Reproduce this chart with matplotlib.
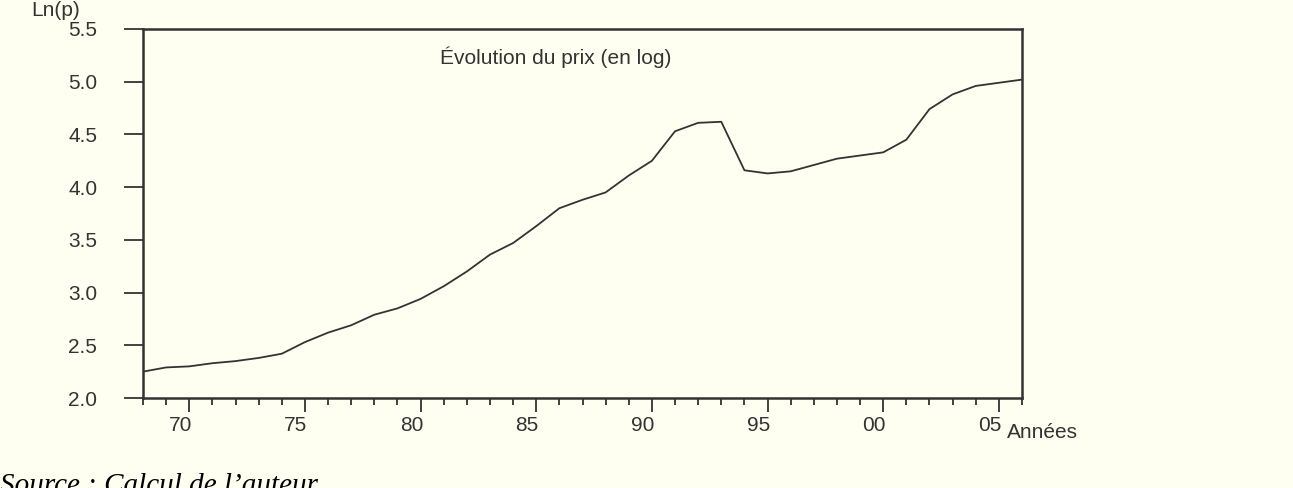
import matplotlib
matplotlib.use('Agg')
import matplotlib.pyplot as plt
import matplotlib.transforms as mtransforms
from matplotlib.ticker import MultipleLocator

# années 1968-2006 et log du prix
annees = list(range(1968, 2007))
ln_prix = [2.25, 2.29, 2.30, 2.33, 2.35, 2.38, 2.42, 2.53, 2.62, 2.69,
           2.79, 2.85, 2.94, 3.06, 3.20, 3.36, 3.47, 3.63, 3.80, 3.88,
           3.95, 4.11, 4.25, 4.53, 4.61, 4.62, 4.16, 4.13, 4.15, 4.21,
           4.27, 4.30, 4.33, 4.45, 4.74, 4.88, 4.96, 4.99, 5.02]
xticks = [1970, 1975, 1980, 1985, 1990, 1995, 2000, 2005]
xlabels = ['70', '75', '80', '85', '90', '95', '00', '05']
yticks = [2.0, 2.5, 3.0, 3.5, 4.0, 4.5, 5.0, 5.5]

fond = '#fefff0'
gris = '#333333'
taille = 15
plt.rcParams['font.family'] = ['Liberation Sans', 'DejaVu Sans']

fig = plt.figure(figsize=(12.93, 4.88), dpi=100, facecolor=fond)
ax = fig.add_axes([143 / 1293, 1 - 398 / 488, (1022 - 143) / 1293, (398 - 29) / 488])
ax.set_facecolor(fond)

ax.plot(annees, ln_prix, color=gris, lw=1.3)

ax.set_xlim(1968, 2006)
ax.set_ylim(2.0, 5.5)
ax.set_xticks(xticks)
ax.set_xticklabels(xlabels)
ax.xaxis.set_minor_locator(MultipleLocator(1))
ax.set_yticks(yticks)
ax.set_yticklabels(['%.1f' % v for v in yticks])

for s in ax.spines.values():
    s.set_color(gris)
    s.set_linewidth(1.8)

ax.tick_params(axis='x', which='major', direction='out', length=10, width=1.3,
               color=gris, labelsize=taille, labelcolor=gris, pad=3)
ax.tick_params(axis='x', which='minor', direction='out', length=5, width=1.3, color=gris)
ax.tick_params(axis='y', direction='out', length=14, width=1.3,
               color=gris, labelsize=taille, labelcolor=gris, pad=19)

# étiquettes x légèrement décalées à gauche (style EViews)
decal = mtransforms.ScaledTranslation(-9 / 100, 0, fig.dpi_scale_trans)
for lab in ax.get_xticklabels():
    lab.set_transform(lab.get_transform() + decal)

fig.text(440 / 1293, 1 - 57 / 488, 'Évolution du prix (en log)', fontsize=taille,
         color=gris, va='center', ha='left')
fig.text(31 / 1293, 1 - 11 / 488, 'Ln(p)', fontsize=taille, color=gris, va='center', ha='left')
fig.text(1007 / 1293, 1 - 433 / 488, 'Années', fontsize=taille, color=gris, va='center', ha='left')

fig.text(0, 1 - 493 / 488, 'Source : Calcul de l\u2019auteur', fontsize=21,
         family=['Liberation Serif', 'DejaVu Serif'], style='italic',
         color='black', va='baseline', ha='left')

fig.savefig('out.png', dpi=100, facecolor=fond)
